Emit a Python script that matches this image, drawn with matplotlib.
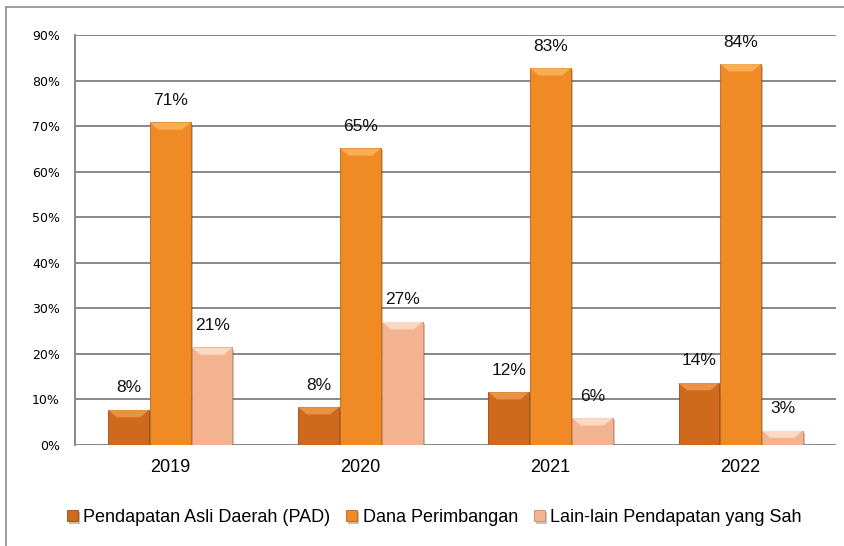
import numpy as np
import matplotlib.pyplot as plt
from matplotlib.patches import Polygon
from matplotlib.lines import Line2D
from matplotlib.ticker import FuncFormatter
import matplotlib.patheffects as pe

# data (share of regional revenue, %)
years = ['2019', '2020', '2021', '2022']
pad = [7.7, 8.3, 11.6, 13.6]
dana = [70.8, 65.1, 82.7, 83.6]
lain = [21.4, 27.0, 5.9, 3.1]
series_names = ['Pendapatan Asli Daerah (PAD)', 'Dana Perimbangan',
                'Lain-lain Pendapatan yang Sah']

colors = ['#CF6A1D', '#F08A25', '#F3B390']
tops = ['#E99145', '#F8AE55', '#FBD9C2']
edges = ['#9A4A12', '#B8641A', '#C48C70']

plt.rcParams['font.family'] = ['Liberation Sans', 'DejaVu Sans']

fig = plt.figure(figsize=(8.45, 5.46), dpi=100)
ax = fig.add_axes([0.089, 0.185, 0.900, 0.751])

x = np.arange(len(years))
w = 0.22
bar_sets = []
for i, vals in enumerate([pad, dana, lain]):
    bars = ax.bar(x + (i - 1) * w, vals, w * 0.97, color=colors[i],
                  edgecolor=edges[i], linewidth=0.6, zorder=3, label=series_names[i],
                  path_effects=[pe.SimplePatchShadow(offset=(1.5, -1.5), alpha=0.3),
                                pe.Normal()])
    bar_sets.append(bars)
    # bevel on top of each bar
    for b in bars:
        x0, bw, h = b.get_x(), b.get_width(), b.get_height()
        bev_h = min(1.6, h * 0.5)
        bev_w = 0.045
        ax.add_patch(Polygon([(x0, h), (x0 + bw, h), (x0 + bw - bev_w, h - bev_h),
                              (x0 + bev_w, h - bev_h)], closed=True,
                             facecolor=tops[i], edgecolor='none', zorder=4))
        ax.text(b.get_x() + bw / 2, h + 3.2, f'{h:.0f}%', ha='center', va='bottom',
                fontsize=12.5, color='#111111', zorder=5)

ax.set_ylim(0, 90)
ax.set_xlim(-0.5, 3.5)
ax.set_yticks(np.arange(0, 91, 10))
ax.yaxis.set_major_formatter(FuncFormatter(lambda v, p: f'{v:.0f}%'))
ax.set_xticks(x)
ax.set_xticklabels(years, fontsize=13)
for lab in ax.get_yticklabels():
    lab.set_fontfamily('DejaVu Sans')
    lab.set_fontsize(9)
ax.tick_params(axis='y', length=0, pad=11)
ax.tick_params(axis='x', length=0, pad=10)
ax.grid(axis='y', color='#878787', linewidth=1.4, zorder=0)
for s in ['top', 'right', 'bottom']:
    ax.spines[s].set_visible(False)
ax.spines['left'].set_color('#878787')
ax.spines['left'].set_linewidth(1.4)

leg = fig.legend(handles=bar_sets, labels=series_names, loc='center',
                 bbox_to_anchor=(0.514, 0.052), ncol=3, frameon=False, fontsize=13,
                 handlelength=0.6, handleheight=0.6, handletextpad=0.3, columnspacing=0.9)

# outer chart border (left and top visible)
fig.add_artist(Line2D([0.0071, 0.0071], [0, 0.987], color='#8C8C8C', linewidth=1.2))
fig.add_artist(Line2D([0.0071, 1.0], [0.987, 0.987], color='#8C8C8C', linewidth=1.2))

fig.savefig('out.png', dpi=100)
